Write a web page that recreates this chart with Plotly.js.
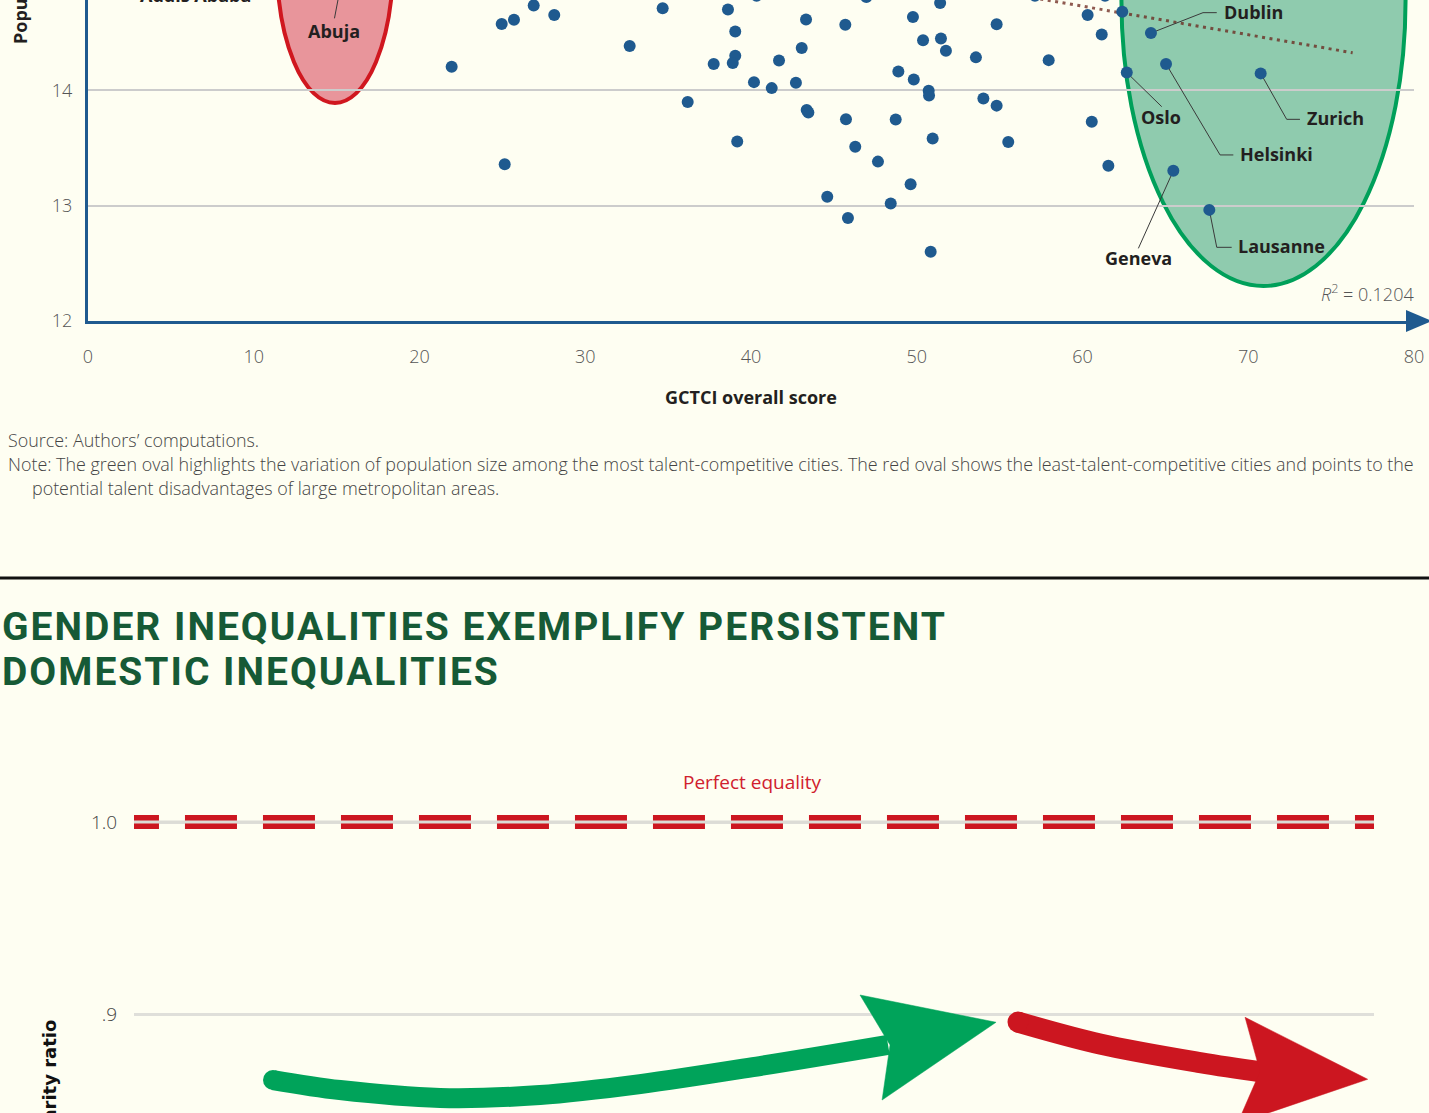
<!DOCTYPE html>
<html>
<head>
<meta charset="utf-8">
<script src="https://cdn.plot.ly/plotly-3.0.1.min.js"></script>
<style>
  html, body { margin: 0; padding: 0; background: #fefef2; }
  #chart { width: 1429px; height: 1113px; }
</style>
</head>
<body>
<div id="chart"></div>
<script>
// ================= DATA =================
// Top chart: GCTCI overall score (x) vs population, log (y)
const cityNames = ['', '', '', '', '', '', '', '', '', '',
                   '', '', '', '', '', '', '', '', '', '',
                   '', '', '', '', '', '', '', '', '', '',
                   '', '', '', '', '', '', '', '', '', '',
                   '', '', '', '', '', '', '', '', '', '',
                   '', '', '', '', '', 'Dublin', 'Oslo', 'Helsinki', 'Zurich', 'Geneva',
                   'Lausanne', '', '', '', 'Abuja'];
const gctciScores = [21.94, 24.96, 25.70, 26.89, 28.13, 25.14, 32.68, 34.67, 36.18, 38.61,
                     39.05, 37.75, 39.05, 38.90, 39.17, 40.18, 41.25, 41.69, 42.71, 43.06,
                     43.32, 43.36, 43.46, 45.69, 45.73, 46.29, 44.60, 45.85, 46.96, 47.66,
                     48.43, 48.73, 48.89, 49.63, 49.77, 49.82, 50.38, 50.72, 50.74, 50.96,
                     50.84, 51.41, 51.46, 51.76, 53.57, 54.02, 54.82, 54.82, 55.52, 57.96,
                     60.31, 60.56, 61.16, 61.56, 62.40, 64.13, 62.67, 65.04, 70.75, 65.48,
                     67.65, 40.34, 57.13, 61.36, 15.30];
const populationLog = [14.205, 14.576, 14.613, 14.737, 14.654, 13.358, 14.385, 14.713, 13.898, 14.702,
                       14.511, 14.228, 14.300, 14.238, 13.556, 14.071, 14.019, 14.259, 14.065, 14.368,
                       14.614, 13.830, 13.807, 14.570, 13.748, 13.511, 13.076, 12.891, 14.810, 13.381,
                       13.017, 13.746, 14.163, 13.185, 14.637, 14.093, 14.435, 13.997, 13.954, 13.581,
                       12.599, 14.758, 14.449, 14.343, 14.286, 13.928, 14.574, 13.867, 13.552, 14.262,
                       14.654, 13.728, 14.484, 13.345, 14.682, 14.497, 14.154, 14.229, 14.147, 13.302,
                       12.962, 14.820, 14.820, 14.820, 14.950];
// Linear fit (dotted)
const trendScores = [20.0, 76.3];
const trendPop = [15.722, 14.326];
const rSquared = '0.1204';
// Highlight ovals [scoreMin, scoreMax, popMin, popMax]
const redOval = [11.40, 18.40, 13.890, 16.320];
const greenOval = [62.35, 79.49, 12.301, 17.249];
// Tick labels
const xTicks = [0, 10, 20, 30, 40, 50, 60, 70, 80];
const yTicks = [12, 13, 14];

// Bottom chart: gender parity ratio
const parityTicks = [0.9, 1.0];
const parityTickText = ['.9', '1.0'];
const perfectEquality = 1.0;
const greenArrowX = [11.21, 16.61, 24.68, 32.74, 40.81, 50.48, 60.81];
const greenArrowY = [0.8656, 0.8604, 0.8563, 0.8578, 0.8635, 0.8729, 0.8839];
const greenHeadX = [58.55, 69.52, 60.33, 60.97, 58.55];
const greenHeadY = [0.9099, 0.8957, 0.8552, 0.8839, 0.9099];
const redArrowX = [71.29, 77.90, 85.97, 90.97];
const redArrowY = [0.8958, 0.8844, 0.8747, 0.8698];
const redHeadX = [89.60, 99.49, 88.99, 90.81, 89.60];
const redHeadY = [0.8983, 0.8660, 0.8430, 0.8700, 0.8983];

// ================= LABEL LAYOUT (positions in data units) =================
const labelLayout = {
  'Dublin':   { via: [[67.27, 14.674], [68.10, 14.674]], text: [68.40, 14.680], anchor: 'left' },
  'Oslo':     { via: [[64.78, 13.858]], text: [64.74, 13.770], anchor: 'center' },
  'Helsinki': { via: [[68.30, 13.439], [69.10, 13.439]], text: [69.38, 13.450], anchor: 'left' },
  'Zurich':   { via: [[72.32, 13.748], [73.12, 13.748]], text: [73.42, 13.760], anchor: 'left' },
  'Geneva':   { via: [[63.37, 12.628]], text: [63.35, 12.544], anchor: 'center' },
  'Lausanne': { via: [[68.10, 12.637], [69.00, 12.637]], text: [69.26, 12.648], anchor: 'left' },
  'Abuja':    { via: [[14.87, 14.625]], text: [14.84, 14.515], anchor: 'center' }
};

// ================= STYLE =================
const W = 1429, H = 1113;
const BG = '#fefef2';
const BLUE = '#1f5a8f';
const GREEN = '#00a35a';
const RED = '#cc1620';
const px = v => v / W;          // pixel -> paper x
const py = v => 1 - v / H;      // pixel -> paper y

const tickFont = { family: 'Open Sans', size: 18, color: '#555', weight: 300 };
const labelFont = { family: 'Open Sans', size: 18, color: '#231f20', weight: 700 };
const noteFont = { family: 'Open Sans', size: 17.9, color: '#444', weight: 300 };
const headFont = { family: 'Roboto', size: 39, color: '#165a36', weight: 700 };

const traces = [];
// trend line
traces.push({
  x: trendScores, y: trendPop, xaxis: 'x', yaxis: 'y',
  mode: 'lines', hoverinfo: 'skip',
  line: { color: 'rgba(105,35,25,0.75)', width: 3, dash: '3px,4.5px' }
});
// leader lines + labels
const annotations = [];
Object.keys(labelLayout).forEach(name => {
  const i = cityNames.indexOf(name);
  const L = labelLayout[name];
  const lx = [gctciScores[i]].concat(L.via.map(p => p[0]));
  const ly = [populationLog[i]].concat(L.via.map(p => p[1]));
  traces.push({ x: lx, y: ly, xaxis: 'x', yaxis: 'y', mode: 'lines', hoverinfo: 'skip',
                line: { color: '#3a3a3a', width: 1 } });
  annotations.push({ xref: 'x', yref: 'y', x: L.text[0], y: L.text[1], text: name,
                     showarrow: false, xanchor: L.anchor, yanchor: 'middle', font: labelFont });
});
// label of a city whose point lies above the visible area
annotations.push({ xref: 'paper', yref: 'paper', x: px(195), y: py(-5), text: 'Addis Ababa',
  showarrow: false, xanchor: 'center', yanchor: 'middle', font: labelFont });
// scatter points
traces.push({
  x: gctciScores, y: populationLog, text: cityNames, xaxis: 'x', yaxis: 'y',
  mode: 'markers', marker: { size: 12, color: BLUE, line: { width: 0 } }, cliponaxis: true
});

// bottom chart
traces.push({
  x: [-2.18, 101], y: [perfectEquality, perfectEquality], xaxis: 'x2', yaxis: 'y2',
  mode: 'lines', hoverinfo: 'skip', line: { color: RED, width: 14, dash: '52px,26px' }
});
function arrow(bx, by, hx, hy, color, w) {
  traces.push({ x: bx, y: by, xaxis: 'x2', yaxis: 'y2', mode: 'lines',
                line: { color: color, width: w, shape: 'spline', smoothing: 1 } });
  traces.push({ x: [bx[0]], y: [by[0]], xaxis: 'x2', yaxis: 'y2', mode: 'markers',
                marker: { color: color, size: w, opacity: 1, line: { width: 0 } } });
  traces.push({ x: hx, y: hy, xaxis: 'x2', yaxis: 'y2', mode: 'lines', fill: 'toself',
                fillcolor: color, line: { color: color, width: 0.5 } });
}
arrow(greenArrowX, greenArrowY, greenHeadX, greenHeadY, GREEN, 20);
arrow(redArrowX, redArrowY, redHeadX, redHeadY, RED, 21);

// text annotations
annotations.push(
  { xref: 'paper', yref: 'paper', x: px(20), y: py(46), text: 'Population (log)', textangle: -90,
    showarrow: false, xanchor: 'center', yanchor: 'bottom',
    font: { family: 'Open Sans', size: 18, color: '#231f20', weight: 700 } },
  { xref: 'paper', yref: 'paper', x: px(751), y: py(397), text: 'GCTCI overall score',
    showarrow: false, xanchor: 'center', yanchor: 'middle',
    font: { family: 'Open Sans', size: 18, color: '#231f20', weight: 700 } },
  { xref: 'paper', yref: 'paper', x: px(1416), y: py(293), text: '<i>R</i><sup>2</sup> = ' + rSquared,
    showarrow: false, xanchor: 'right', yanchor: 'middle', font: tickFont },
  { xref: 'paper', yref: 'paper', x: px(6), y: py(440), text: 'Source: Authors’ computations.',
    showarrow: false, xanchor: 'left', yanchor: 'middle', font: noteFont },
  { xref: 'paper', yref: 'paper', x: px(6), y: py(464),
    text: 'Note: The green oval highlights the variation of population size among the most talent-competitive cities. The red oval shows the least-talent-competitive cities and points to the',
    showarrow: false, xanchor: 'left', yanchor: 'middle', font: noteFont },
  { xref: 'paper', yref: 'paper', x: px(30), y: py(488),
    text: 'potential talent disadvantages of large metropolitan areas.',
    showarrow: false, xanchor: 'left', yanchor: 'middle', font: noteFont },
  { xref: 'paper', yref: 'paper', x: px(0), y: py(627), text: 'GENDER INEQUALITIES EXEMPLIFY PERSISTENT',
    showarrow: false, xanchor: 'left', yanchor: 'middle', align: 'left', font: headFont },
  { xref: 'paper', yref: 'paper', x: px(0), y: py(672), text: 'DOMESTIC INEQUALITIES',
    showarrow: false, xanchor: 'left', yanchor: 'middle', align: 'left', font: headFont },
  { xref: 'paper', yref: 'paper', x: px(752), y: py(782), text: 'Perfect equality',
    showarrow: false, xanchor: 'center', yanchor: 'middle',
    font: { family: 'Open Sans', size: 19, color: '#d0202e', weight: 400 } },
  { xref: 'paper', yref: 'paper', x: px(49), y: py(1017), text: 'Gender parity ratio', textangle: -90,
    showarrow: false, xanchor: 'center', yanchor: 'top',
    font: { family: 'DejaVu Sans', size: 18, color: '#111', weight: 700 } }
);

const shapes = [
  { type: 'circle', xref: 'x', yref: 'y', x0: redOval[0], x1: redOval[1], y0: redOval[2], y1: redOval[3],
    fillcolor: '#e8959b', line: { color: '#d0171f', width: 4 }, layer: 'below' },
  { type: 'circle', xref: 'x', yref: 'y', x0: greenOval[0], x1: greenOval[1], y0: greenOval[2], y1: greenOval[3],
    fillcolor: '#8fcbae', line: { color: '#00a05a', width: 4 }, layer: 'below' },
  // axis arrowhead
  { type: 'path', xref: 'paper', yref: 'paper',
    path: `M ${px(1406)} ${py(310)} L ${px(1432)} ${py(321)} L ${px(1406)} ${py(332)} Z`,
    fillcolor: BLUE, line: { width: 0 } },
  // separator rule
  { type: 'line', xref: 'paper', yref: 'paper', x0: 0, x1: 1, y0: py(578), y1: py(578),
    line: { color: '#111', width: 3 } },
  // light gridline visible through the dashed equality line
  { type: 'line', xref: 'x2', yref: 'y2', x0: 0, x1: 100, y0: perfectEquality, y1: perfectEquality,
    line: { color: '#dcdcd6', width: 3 }, layer: 'above' }
];

const layout = {
  width: W, height: H,
  margin: { l: 0, r: 0, t: 0, b: 0, pad: 0 },
  paper_bgcolor: BG, plot_bgcolor: BG,
  showlegend: false,
  hovermode: false,
  xaxis: {
    domain: [px(88), px(1414)], range: [0, 80], anchor: 'y',
    tickvals: xTicks, ticktext: xTicks.map(String),
    showgrid: false, zeroline: false, showline: true, linecolor: BLUE, linewidth: 3,
    ticks: 'outside', ticklen: 18, tickcolor: 'rgba(0,0,0,0)', tickfont: tickFont, fixedrange: true
  },
  yaxis: {
    domain: [py(320.7), 1], range: [12, 14.784], anchor: 'x',
    tickvals: yTicks, ticktext: yTicks.map(String),
    showgrid: true, gridcolor: '#cccccc', gridwidth: 2, zeroline: false,
    showline: true, linecolor: BLUE, linewidth: 3,
    ticks: 'outside', ticklen: 9, tickcolor: 'rgba(0,0,0,0)', tickfont: tickFont, fixedrange: true
  },
  xaxis2: {
    domain: [px(134), px(1374)], range: [0, 100], anchor: 'y2', visible: false, fixedrange: true
  },
  yaxis2: {
    domain: [0, py(740)], range: [0.84844, 1.04271], anchor: 'x2',
    tickvals: parityTicks, ticktext: parityTickText,
    showgrid: true, gridcolor: '#dfdfda', gridwidth: 3, zeroline: false, showline: false,
    ticks: 'outside', ticklen: 12, tickcolor: 'rgba(0,0,0,0)',
    tickfont: { family: 'Open Sans', size: 19, color: '#444', weight: 300 }, fixedrange: true
  },
  shapes: shapes,
  annotations: annotations
};

Plotly.newPlot('chart', traces, layout, { displayModeBar: false, staticPlot: true }).then(() => {
  // the heading is set with extra letter spacing, as in the reference
  document.querySelectorAll('#chart text.annotation-text').forEach(t => {
    if (/INEQUALITIES/.test(t.textContent)) t.setAttribute('letter-spacing', '2px');
  });
});
</script>
</body>
</html>
